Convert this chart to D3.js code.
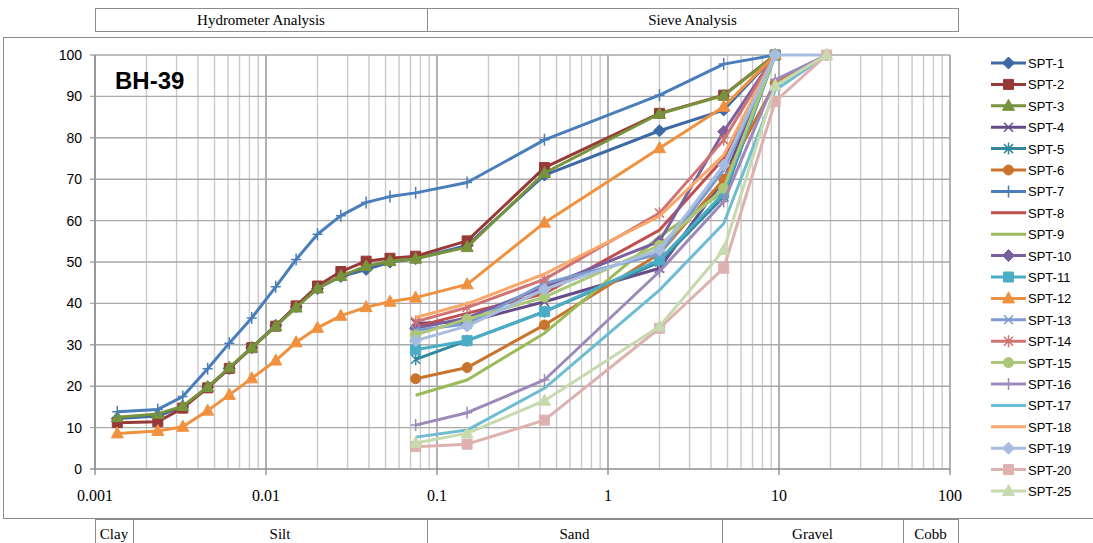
<!DOCTYPE html>
<html>
<head>
<meta charset="utf-8">
<script src="https://cdn.jsdelivr.net/npm/d3@7"></script>
<style>
  body { margin: 0; background: #fff; }
  svg text { fill: #000; }
</style>
</head>
<body>
<div id="chart-area"></div>
<script>
// grain sizes in mm (hydrometer readings, then sieves)
var sizes = [0.00135, 0.00233, 0.00326, 0.00456, 0.0061, 0.00825, 0.0114, 0.0150, 0.0200, 0.0274, 0.0385, 0.0531,
             0.075, 0.15, 0.425, 2.0, 4.75, 9.5, 19.0];

var N = null;
var names = ["SPT-1","SPT-2","SPT-3","SPT-4","SPT-5","SPT-6","SPT-7","SPT-8","SPT-9","SPT-10",
             "SPT-11","SPT-12","SPT-13","SPT-14","SPT-15","SPT-16","SPT-17","SPT-18","SPT-19","SPT-20","SPT-25"];

var spt1  = [12.2, 12.8, 15.0, 19.8, 24.3, 29.3, 34.7, 39.2, 43.6, 46.5, 48.2, 50.0, 50.8, 54.0, 71.0, 81.7, 86.7, 100, N];
var spt2  = [11.2, 11.4, 14.7, 19.6, 24.3, 29.3, 34.5, 39.4, 44.2, 47.7, 50.2, 50.9, 51.4, 55.1, 72.8, 85.9, 90.3, 100, N];
var spt3  = [12.5, 13.3, 15.2, 19.8, 24.5, 29.3, 34.5, 39.0, 43.6, 46.6, 49.0, 50.2, 50.8, 53.6, 71.5, 85.8, 90.2, 100, N];
var spt4  = [N, N, N, N, N, N, N, N, N, N, N, N, 35.2, 35.5, 40.4, 48.5, 69.8, 100, N];
var spt5  = [N, N, N, N, N, N, N, N, N, N, N, N, 26.5, 31.0, 38.0, 50.0, 65.8, 100, N];
var spt6  = [N, N, N, N, N, N, N, N, N, N, N, N, 21.8, 24.5, 34.8, 52.0, 70.0, 93.2, 100];
var spt7  = [13.8, 14.4, 17.5, 24.2, 30.4, 36.5, 44.0, 50.6, 56.7, 61.2, 64.4, 65.8, 66.7, 69.2, 79.5, 90.3, 97.8, 100, N];
var spt8  = [N, N, N, N, N, N, N, N, N, N, N, N, 34.4, 37.6, 42.4, 57.7, 75.0, 100, N];
var spt9  = [N, N, N, N, N, N, N, N, N, N, N, N, 17.8, 21.5, 32.8, 56.1, 67.0, 100, N];
var spt10 = [N, N, N, N, N, N, N, N, N, N, N, N, 34.0, 36.5, 44.0, 55.0, 81.5, 100, N];
var spt11 = [N, N, N, N, N, N, N, N, N, N, N, N, 28.8, 31.0, 38.0, 50.5, 66.6, 100, N];
var spt12 = [8.6, 9.2, 10.2, 14.1, 17.9, 21.9, 26.2, 30.6, 34.1, 37.0, 39.1, 40.4, 41.4, 44.6, 59.5, 77.5, 87.5, 100, N];
var spt13 = [N, N, N, N, N, N, N, N, N, N, N, N, 33.5, 35.0, 44.8, 52.0, 72.2, 100, N];
var spt14 = [N, N, N, N, N, N, N, N, N, N, N, N, 35.6, 39.0, 45.8, 61.8, 79.5, 100, N];
var spt15 = [N, N, N, N, N, N, N, N, N, N, N, N, 32.4, 36.2, 41.5, 54.0, 67.8, 100, N];
var spt16 = [N, N, N, N, N, N, N, N, N, N, N, N, 10.6, 13.6, 21.5, 47.7, 64.6, 94.0, 100];
var spt17 = [N, N, N, N, N, N, N, N, N, N, N, N, 7.7, 9.4, 19.5, 43.2, 59.3, 91.5, 100];
var spt18 = [N, N, N, N, N, N, N, N, N, N, N, N, 36.6, 39.9, 47.1, 61.1, 75.8, 100, N];
var spt19 = [N, N, N, N, N, N, N, N, N, N, N, N, 31.0, 34.5, 43.4, 52.9, 73.4, 100, 100];
var spt20 = [N, N, N, N, N, N, N, N, N, N, N, N, 5.4, 6.0, 11.8, 34.0, 48.5, 88.8, 100];
var spt25 = [N, N, N, N, N, N, N, N, N, N, N, N, 6.3, 8.6, 16.5, 34.4, 52.9, 92.6, 100];

var values = [spt1, spt2, spt3, spt4, spt5, spt6, spt7, spt8, spt9, spt10, spt11, spt12,
              spt13, spt14, spt15, spt16, spt17, spt18, spt19, spt20, spt25];

var colors = ["#3d6aa5","#973a37","#77933c","#654c89","#31899e","#c9732d","#4a7ebb",
              "#c0504d","#9bbb59","#7b60a0","#4bacc6","#f0913f","#7d9bcf","#cf7472",
              "#abc777","#9d89b9","#6dbcd2","#f9a86b","#a7bddf","#ddb1b0","#c7d9ae"];
var markers = ["diamond","square","triangle","x","star","circle","plus",null,null,
               "diamond","square","triangle","x","star","circle","plus",null,null,
               "diamond","square","triangle"];

var yTicks = [0, 10, 20, 30, 40, 50, 60, 70, 80, 90, 100];
var xTickLabels = [0.001, 0.01, 0.1, 1, 10, 100];
var topBands = [["Hydrometer Analysis", 95, 427], ["Sieve Analysis", 427, 958]];
var soilBands = [["Clay", 95, 133], ["Silt", 133, 427], ["Sand", 427, 722], ["Gravel", 722, 903], ["Cobb", 903, 958]];

var width = 1093;
var height = 543;

var svg = d3.select("#chart-area").append("svg")
    .attr("width", width)
    .attr("height", height);

var x = d3.scaleLog().domain([0.001, 100]).range([95, 950]);
var y = d3.scaleLinear().domain([0, 100]).range([469, 55]);

// chart border
svg.append("rect")
    .attr("x", 3.5).attr("y", 37.5)
    .attr("width", 1100).attr("height", 481)
    .attr("fill", "white")
    .attr("stroke", "#8c8c8c")
    .attr("stroke-width", 1);

// header table
function bandTable(bands, top, h) {
    var g = svg.append("g");
    bands.forEach((b) => {
        g.append("rect")
            .attr("x", b[1] + 0.5).attr("y", top + 0.5)
            .attr("width", b[2] - b[1]).attr("height", h)
            .attr("fill", "none")
            .attr("stroke", "#8c8c8c");
        g.append("text")
            .attr("x", (b[1] + b[2]) / 2)
            .attr("y", top + h - 6)
            .attr("text-anchor", "middle")
            .attr("font-family", "Liberation Serif, serif")
            .attr("font-size", 15)
            .text(b[0]);
    });
}
bandTable(topBands, 8, 23);
bandTable(soilBands, 519, 26);

// gridlines
var grid = svg.append("g");
var minor = x.ticks();
grid.selectAll("line.v").data(minor).enter().append("line")
    .attr("x1", (d) => x(d)).attr("x2", (d) => x(d))
    .attr("y1", y(100)).attr("y2", (d) => xTickLabels.indexOf(+d.toPrecision(1)) >= 0 && Math.abs(Math.log10(d) - Math.round(Math.log10(d))) < 1e-9 ? y(0) + 6 : y(0))
    .attr("stroke", (d) => Math.abs(Math.log10(d) - Math.round(Math.log10(d))) < 1e-9 ? "#8f8f8f" : "#cacaca")
    .attr("stroke-width", 1.4);

grid.selectAll("line.h").data(yTicks).enter().append("line")
    .attr("x1", 90).attr("x2", 950)
    .attr("y1", (d) => y(d)).attr("y2", (d) => y(d))
    .attr("stroke", (d) => d === 0 ? "#8f8f8f" : "#a9a9a9")
    .attr("stroke-width", 1.4);

grid.append("line")
    .attr("x1", 95).attr("x2", 95)
    .attr("y1", y(100)).attr("y2", y(0))
    .attr("stroke", "#8f8f8f").attr("stroke-width", 1.4);

// axis labels
svg.append("g").selectAll("text").data(yTicks).enter().append("text")
    .attr("x", 82)
    .attr("y", (d) => y(d) + 5)
    .attr("text-anchor", "end")
    .attr("font-family", "Liberation Sans, Arial, sans-serif")
    .attr("font-size", 14)
    .text((d) => d);

svg.append("g").selectAll("text").data(xTickLabels).enter().append("text")
    .attr("x", (d) => x(d))
    .attr("y", 501)
    .attr("text-anchor", "middle")
    .attr("font-family", "Liberation Serif, serif")
    .attr("font-size", 16)
    .text((d) => d);

svg.append("text")
    .attr("x", 115).attr("y", 89)
    .attr("font-family", "Liberation Sans, Arial, sans-serif")
    .attr("font-weight", "bold")
    .attr("font-size", 24)
    .text("BH-39");

// marker shapes
function markerPath(kind) {
    switch (kind) {
        case "diamond": return "M0,-6L6,0L0,6L-6,0Z";
        case "square": return "M-5,-5H5V5H-5Z";
        case "triangle": return "M0,-6.5L6,4.5H-6Z";
        case "circle": return "M5,0A5,5 0 1,1 -5,0A5,5 0 1,1 5,0Z";
        case "x": return "M-4.5,-4.5L4.5,4.5M-4.5,4.5L4.5,-4.5";
        case "star": return "M-4.5,-4.5L4.5,4.5M-4.5,4.5L4.5,-4.5M0,-6V6";
        case "plus": return "M0,-6V6M-5,0H5";
    }
    return null;
}
function isFilled(kind) {
    return kind === "diamond" || kind === "square" || kind === "triangle" || kind === "circle";
}

var line = d3.line()
    .defined((d) => d.v !== null)
    .x((d) => x(d.s))
    .y((d) => y(d.v));

var series = svg.append("g");
names.forEach((name, i) => {
    var pts = sizes.map((s, j) => ({ s: s, v: values[i][j] }));
    var g = series.append("g");
    g.append("path")
        .attr("d", line(pts))
        .attr("fill", "none")
        .attr("stroke", colors[i])
        .attr("stroke-width", 3)
        .attr("stroke-linejoin", "round");
    if (markers[i]) {
        g.selectAll("path.m").data(pts.filter((d) => d.v !== null)).enter().append("path")
            .attr("transform", (d) => "translate(" + x(d.s) + "," + y(d.v) + ")")
            .attr("d", markerPath(markers[i]))
            .attr("fill", isFilled(markers[i]) ? colors[i] : "none")
            .attr("stroke", colors[i])
            .attr("stroke-width", isFilled(markers[i]) ? 1 : 1.5);
    }
});

// legend
var legend = svg.append("g");
names.forEach((name, i) => {
    var ly = 63 + i * 21.4;
    legend.append("line")
        .attr("x1", 991).attr("x2", 1026)
        .attr("y1", ly).attr("y2", ly)
        .attr("stroke", colors[i]).attr("stroke-width", 3);
    if (markers[i]) {
        legend.append("path")
            .attr("transform", "translate(1008.5," + ly + ")")
            .attr("d", markerPath(markers[i]))
            .attr("fill", isFilled(markers[i]) ? colors[i] : "none")
            .attr("stroke", colors[i])
            .attr("stroke-width", isFilled(markers[i]) ? 1 : 1.5);
    }
    legend.append("text")
        .attr("x", 1028).attr("y", ly + 5)
        .attr("font-family", "Liberation Sans, Arial, sans-serif")
        .attr("font-size", 13)
        .text(name);
});
</script>
</body>
</html>
